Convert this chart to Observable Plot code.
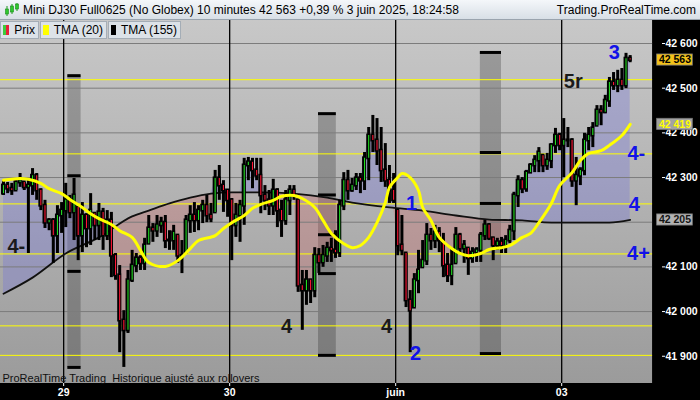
<!DOCTYPE html>
<html><head><meta charset="utf-8">
<script src="https://cdn.jsdelivr.net/npm/d3@7"></script>
<script src="https://cdn.jsdelivr.net/npm/@observablehq/plot@0.6"></script>
<style>
body{margin:0;background:#000;}
#wrap{position:relative;width:700px;height:400px;background:#000;overflow:hidden;font-family:Arial,"Liberation Sans",sans-serif;}
#hdr{position:absolute;left:0;top:0;width:700px;height:20px;background:linear-gradient(#f4f7fa,#d8dfe6);border-bottom:1px solid #9aa4ae;box-sizing:border-box;font-size:12px;color:#000;}
#title{position:absolute;left:23px;top:3px;white-space:nowrap;}
#site{position:absolute;right:4px;top:3px;white-space:nowrap;}
#chart{position:absolute;left:0;top:20px;}
#legend{position:absolute;left:0;top:21px;display:flex;font-size:12px;color:#000;}
.lg{height:18px;background:#dce2e8;border:1px solid #a4adb6;box-sizing:border-box;padding:0 3px 0 2px;display:flex;align-items:center;margin-right:1px;white-space:nowrap;}
.sw{width:10px;height:10px;margin-right:5px;display:inline-block;}
</style></head>
<body>
<div id="wrap">
  <div id="hdr">
    <svg width="16" height="16" style="position:absolute;left:4px;top:2px">
      <line x1="3" y1="4" x2="3" y2="14" stroke="#1a9a1a"/><rect x="1.5" y="7" width="3" height="5" fill="#2ec82e" stroke="#1a8a1a" stroke-width="0.6"/>
      <line x1="8" y1="2" x2="8" y2="12" stroke="#1a9a1a"/><rect x="6.5" y="4" width="3" height="6" fill="#2ec82e" stroke="#1a8a1a" stroke-width="0.6"/>
      <line x1="13" y1="1" x2="13" y2="9" stroke="#1a9a1a"/><rect x="11.5" y="2" width="3" height="5" fill="#2ec82e" stroke="#1a8a1a" stroke-width="0.6"/>
    </svg>
    <div id="title">Mini DJ30 Full0625 (No Globex) 10 minutes 42 563 +0,39 % 3 juin 2025, 18:24:58</div>
    <div id="site">Trading.ProRealTime.com</div>
  </div>
  <div id="chart"></div>
  <div id="legend">
    <div class="lg" style="width:39px"><span class="sw" style="background:linear-gradient(90deg,#3ccc3c 50%,#e8203a 50%)"></span>Prix</div>
    <div class="lg" style="width:67px"><span class="sw" style="background:#ffff00"></span>TMA (20)</div>
    <div class="lg" style="width:73px"><span class="sw" style="background:#000"></span>TMA (155)</div>
  </div>
</div>
<script>
// ---------- data ----------
const dayTicks = [14.5, 54.5, 94.5, 134.5];
const dayLabels = ["29", "30", "juin", "03"];
const yTicks = [41900, 42000, 42100, 42300, 42400, 42500, 42600];
const gridValues = [42000, 42100, 42200, 42300, 42400, 42500, 42600];
const levelValues = [42519, 42353, 42241, 42129, 41968, 41902];
const firstOpen = 42264;
const high = [
42293,42289,42287,42293,42309,42289,42298,42320,42309,42275,
42249,42208,42208,42237,42244,42287,42260,42298,42233,42244,
42219,42264,42219,42242,42231,42226,42222,42130,42103,42002,
42092,42137,42130,42125,42164,42215,42197,42215,42211,42215,
42181,42193,42170,42159,42215,42237,42244,42237,42249,42260,
42242,42316,42327,42293,42271,42253,42242,42249,42343,42345,
42343,42343,42343,42282,42271,42296,42275,42249,42271,42282,
42282,42249,42092,42092,42070,42143,42141,42148,42155,42164,
42181,42249,42311,42316,42298,42309,42309,42356,42412,42439,
42432,42412,42376,42327,42309,42226,42215,42130,42047,42085,
42137,42159,42197,42186,42193,42188,42175,42130,42141,42188,
42175,42159,42141,42143,42143,42177,42204,42197,42166,42164,
42166,42170,42193,42267,42304,42300,42316,42331,42349,42367,
42349,42354,42376,42410,42399,42432,42412,42387,42345,42322,
42399,42412,42423,42461,42461,42484,42524,42535,42540,42544,
42578,42573];
const low = [
42260,42264,42260,42271,42278,42271,42130,42260,42249,42226,
42186,42181,42108,42130,42175,42188,42208,42159,42114,42132,
42143,42148,42159,42159,42137,42159,42076,42070,41908,41875,
41951,42065,42087,42092,42092,42152,42155,42166,42175,42141,
42137,42137,42108,42085,42132,42175,42177,42181,42197,42199,
42199,42222,42249,42222,42211,42114,42166,42155,42193,42293,
42275,42293,42219,42226,42215,42215,42188,42166,42193,42215,
42249,42043,41958,42014,42018,42031,42085,42099,42110,42110,
42119,42121,42226,42249,42267,42271,42264,42271,42293,42356,
42327,42289,42278,42242,42242,42125,42125,42009,41908,42009,
42040,42099,42103,42137,42141,42132,42076,42065,42058,42108,
42130,42108,42081,42108,42110,42110,42159,42159,42114,42137,
42130,42130,42152,42159,42233,42264,42267,42309,42311,42311,
42311,42316,42320,42354,42360,42300,42367,42278,42237,42282,
42304,42360,42367,42416,42416,42443,42457,42495,42490,42495,
42499,42557];
const close = [
42282,42275,42271,42289,42293,42278,42282,42304,42271,42237,
42199,42204,42170,42215,42226,42249,42222,42260,42170,42215,
42186,42226,42193,42222,42170,42204,42125,42081,41980,41958,
42070,42103,42119,42108,42148,42186,42181,42193,42199,42159,
42159,42177,42125,42125,42204,42215,42204,42226,42237,42215,
42208,42298,42282,42271,42249,42193,42215,42237,42327,42334,
42316,42304,42260,42249,42237,42271,42226,42204,42249,42271,
42260,42058,42047,42070,42047,42125,42110,42125,42141,42137,
42132,42237,42293,42271,42282,42298,42293,42343,42394,42383,
42360,42316,42293,42271,42249,42148,42137,42025,42002,42070,
42092,42114,42170,42159,42177,42159,42103,42081,42103,42170,
42141,42148,42119,42132,42137,42170,42193,42164,42148,42155,
42148,42159,42181,42260,42293,42275,42311,42327,42338,42356,
42327,42338,42372,42394,42372,42383,42383,42293,42304,42316,
42383,42394,42410,42450,42446,42472,42513,42506,42517,42506,
42566,42563];
const tma20Idx = [0,4,6,9,11,14,16,19,21,23,26,28,31,33,35,39,42,45,47,51,53,55,58,60,62,65,67,70,72,75,77,79,82,84,86,88,90,92,93,95,96,98,100,101,103,105,108,110,112,115,117,120,122,125,127,129,132,134,137,139,141,144,146,149,151];
const tma20 = [42294,42298,42296,42287,42275,42264,42251,42233,42219,42208,42195,42181,42166,42137,42110,42101,42114,42141,42159,42170,42186,42199,42215,42231,42240,42249,42258,42260,42253,42233,42204,42175,42152,42143,42148,42166,42199,42244,42278,42300,42309,42300,42271,42233,42204,42166,42141,42130,42125,42130,42139,42143,42148,42166,42175,42199,42242,42282,42311,42338,42354,42360,42372,42394,42419];
const tma155Idx = [0,7,15,23,31,35,40,45,50,55,60,62,70,78,84,93,101,109,117,125,132,141,146,151];
const tma155 = [42040,42076,42130,42166,42213,42226,42242,42255,42264,42267,42267,42267,42264,42255,42244,42233,42226,42215,42206,42204,42199,42199,42199,42205];
const bandStart = [15.5, 75.9, 114.9];
const bandEnd = [18.7, 80.2, 120.0];
const bandTop = [42528, 42443, 42580];
const bandBottom = [41875, 41902, 41906];
const bandLevels = [[42528, 42304, 42090, 41875], [42443, 42261, 42172, 42085, 41902], [42580, 42356, 42242, 41906]];
const annoText = ["4-", "4", "4", "2", "1", "3", "5r", "4-", "4", "4+"];
const annoIdx = [3.1, 68.2, 92.3, 99.3, 98.3, 147.2, 137.3, 152.5, 152, 153];
const annoValue = [42148, 41969, 41969, 41908, 42244, 42582, 42517, 42356, 42242, 42132];
const priceMarks = [42563, 42419, 42205];
const captionText = "ProRealTime Trading \u00a0Historique ajusté aux rollovers";

// ---------- derived ----------
const xMin = -0.72, plotEnd = 156.4, xMax = 158.55;
const yMin = 41839, yMax = 42651.5;
function interp(xs, vs, x) {
  if (x <= xs[0]) return vs[0];
  for (let k = 1; k < xs.length; k++) {
    if (x <= xs[k]) { const t = (x - xs[k-1]) / (xs[k] - xs[k-1]); return vs[k-1] + t * (vs[k] - vs[k-1]); }
  }
  return vs[vs.length - 1];
}
const bars = close.map((c, i) => {
  const prev = i ? close[i-1] : firstOpen;
  const o = Math.min(high[i], Math.max(low[i], prev));
  return {i, h: high[i], l: low[i], c, o, t: interp(tma155Idx, tma155, i)};
});
const t20 = tma20Idx.map((x, k) => ({x, v: tma20[k]}));
const t155 = tma155Idx.map((x, k) => ({x, v: tma155[k]}));
const bands = bandStart.map((s, k) => ({x1: s, x2: bandEnd[k], y1: bandBottom[k], y2: bandTop[k]}));
const bandMarks = bandLevels.flatMap((lv, k) => lv.map(v => ({x1: bandStart[k], x2: bandEnd[k], v})));
const darkAnno = new Set([0, 1, 2, 6]);
const annos = annoText.map((t, k) => ({t, x: annoIdx[k], y: annoValue[k], blue: !darkAnno.has(k)}));
const loc = d3.formatLocale({decimal: ",", thousands: " ", grouping: [3], currency: ["", ""]});
const fmt = loc.format(",d");
const boxBg = ["#f3c21a", "#a2a2a2", "#b2b2b2"];
const boxFg = ["#000000", "#ffff00", "#151515"];

const chart = Plot.plot({
  width: 700, height: 380,
  marginTop: 0, marginBottom: 17, marginLeft: 0, marginRight: 39,
  style: {background: "transparent", color: "white", fontFamily: "Arial, 'Liberation Sans', sans-serif", fontSize: "10.5px", fontWeight: "bold"},
  x: {domain: [xMin, xMax], axis: "bottom", ticks: dayTicks, tickFormat: d => dayLabels[dayTicks.indexOf(d)], tickSize: 3, tickPadding: 2, label: null},
  y: {domain: [yMin, yMax], axis: "right", ticks: yTicks, tickFormat: d => fmt(d), tickSize: 3, tickPadding: 1, label: null},
  color: {type: "identity"},
  marks: [
    Plot.rect([0], {x1: xMin, x2: plotEnd, y1: yMin, y2: yMax, fill: "url(#bgGrad)"}),
    Plot.rect(bands, {x1: "x1", x2: "x2", y1: "y1", y2: "y2", fill: "#000", fillOpacity: 0.22}),
    Plot.areaY(bars, {x: "i", y1: "t", y2: d => Math.max(d.c, d.t), fill: "#6f6fdc", fillOpacity: 0.32}),
    Plot.areaY(bars, {x: "i", y1: "t", y2: d => Math.min(d.c, d.t), fill: "#cc6a6a", fillOpacity: 0.32}),
    Plot.ruleY(gridValues, {x1: xMin, x2: plotEnd, stroke: "#7c7c7c", strokeWidth: 1}),
    Plot.ruleY(levelValues, {x1: xMin, x2: plotEnd, stroke: "#ffff00", strokeWidth: 1}),
    Plot.ruleY(bandMarks, {y: "v", x1: "x1", x2: "x2", stroke: "#000", strokeWidth: 3}),
    Plot.ruleX(dayTicks, {y1: yMin, y2: yMax, stroke: "#000", strokeWidth: 1.3}),
    Plot.line(t155, {x: "x", y: "v", stroke: "#111", strokeWidth: 1.8, curve: "monotone-x"}),
    Plot.ruleX(bars, {x: "i", y1: "l", y2: "h", stroke: "#000", strokeWidth: 3}),
    Plot.rect(bars, {x1: d => d.i - 0.48, x2: d => d.i + 0.48, y1: "o", y2: "c", fill: "#000", insetTop: -1.5, insetBottom: -1.5}),
    Plot.ruleX(bars, {x: "i", y1: "o", y2: "c", stroke: d => d.c >= d.o ? "#22dd22" : "#ff1535", strokeWidth: 1.1}),
    Plot.line(t20, {x: "x", y: "v", stroke: "#ffff00", strokeWidth: 3, curve: "catmull-rom"}),
    Plot.text(annos, {x: "x", y: "y", text: "t", fill: d => d.blue ? "#1212e8" : "#1a1a1a", fontSize: 20, fontWeight: "bold", dy: 1}),
    Plot.text([captionText], {frameAnchor: "bottom-left", text: d => d, dx: 2, dy: -2, textAnchor: "start", lineAnchor: "bottom", fill: "#111", fontSize: 11, fontWeight: "normal"}),
    Plot.rect(priceMarks, {x1: 157.5, x2: 166.1, y1: d => d - 12.5, y2: d => d + 12.5, fill: (d, i) => boxBg[i], stroke: "#777", strokeWidth: 0.8}),
    Plot.text(priceMarks, {x: 161.8, y: d => d, text: d => fmt(d), fill: (d, i) => boxFg[i], fontSize: 10.5, fontWeight: "bold"})
  ]
});
d3.select(chart).insert("defs", ":first-child").html('<linearGradient id="bgGrad" x1="0" y1="0" x2="0" y2="1"><stop offset="0" stop-color="#c8c8c8"/><stop offset="1" stop-color="#9b9b9b"/></linearGradient>');
document.getElementById("chart").appendChild(chart);
</script>
</body></html>
